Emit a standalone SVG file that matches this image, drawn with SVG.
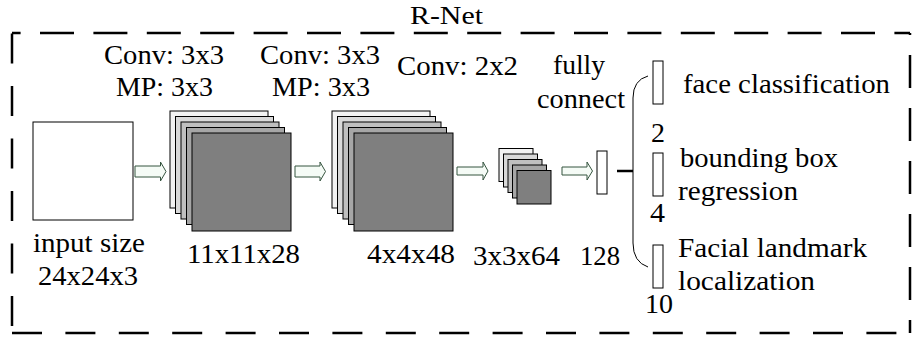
<svg xmlns="http://www.w3.org/2000/svg" width="921" height="338" viewBox="0 0 921 338" font-family="'Liberation Serif', 'Times New Roman', serif">
<style>
text{font-family:'Liberation Serif','Times New Roman',serif;font-size:28px;fill:#000}
.frame{stroke:#000;stroke-width:2.5;fill:none}
.box{fill:#fff;stroke:#000;stroke-width:1}
.l1{fill:#f2f2f2;stroke:#000;stroke-width:1}
.l2{fill:#d9d9d9;stroke:#000;stroke-width:1}
.l3{fill:#bfbfbf;stroke:#000;stroke-width:1}
.l4{fill:#a6a6a6;stroke:#000;stroke-width:1}
.l5{fill:#7f7f7f;stroke:#000;stroke-width:1}
.bar{fill:#fff;stroke:#000;stroke-width:1}
.arrow{fill:#f5fbf6;stroke:#35543f;stroke-width:1}
.link{fill:none;stroke:#000;stroke-width:1}
</style>
<g id="frame">
<line class="frame" x1="12" y1="33" x2="910" y2="33" stroke-dasharray="34 19.4" stroke-dashoffset="25.4"/>
<line class="frame" x1="12" y1="33" x2="12" y2="333" stroke-dasharray="30 22.5" stroke-dashoffset="-0.5"/>
<line class="frame" x1="910" y1="33" x2="910" y2="333" stroke-dasharray="33 20" stroke-dashoffset="31"/>
<line class="frame" x1="12" y1="333" x2="910" y2="333" stroke-dasharray="30 23.4"/>
<text x="410" y="24" style="font-size:26px" textLength="73" lengthAdjust="spacingAndGlyphs">R-Net</text>
</g>
<g id="input">
<rect class="box" x="33" y="122" width="100" height="98"/>
<text x="33" y="252" textLength="112" lengthAdjust="spacingAndGlyphs">input size</text>
<text x="38" y="285" textLength="100" lengthAdjust="spacingAndGlyphs">24x24x3</text>
</g>
<g id="conv1">
<text x="104" y="64" textLength="120" lengthAdjust="spacingAndGlyphs">Conv: 3x3</text>
<text x="116" y="96" textLength="97" lengthAdjust="spacingAndGlyphs">MP: 3x3</text>
<rect class="l1" x="170" y="111" width="98" height="97"/>
<rect class="l2" x="175.5" y="116.5" width="98" height="97"/>
<rect class="l3" x="181" y="122" width="98" height="97"/>
<rect class="l4" x="186.5" y="127.5" width="98" height="97"/>
<rect class="l5" x="192" y="133" width="99" height="98"/>
<text x="187" y="263" textLength="113" lengthAdjust="spacingAndGlyphs">11x11x28</text>
</g>
<g id="conv2">
<text x="260" y="64" textLength="120" lengthAdjust="spacingAndGlyphs">Conv: 3x3</text>
<text x="272" y="96" textLength="98" lengthAdjust="spacingAndGlyphs">MP: 3x3</text>
<rect class="l1" x="332" y="111" width="98" height="97"/>
<rect class="l2" x="337.5" y="116.5" width="98" height="97"/>
<rect class="l3" x="343" y="122" width="98" height="97"/>
<rect class="l4" x="348.5" y="127.5" width="98" height="97"/>
<rect class="l5" x="354" y="133" width="99" height="98"/>
<text x="367" y="263" textLength="88" lengthAdjust="spacingAndGlyphs">4x4x48</text>
</g>
<g id="conv3">
<text x="397" y="75" textLength="121" lengthAdjust="spacingAndGlyphs">Conv: 2x2</text>
<rect class="l1" x="499" y="148.5" width="34" height="33"/>
<rect class="l2" x="503.5" y="154" width="34" height="33"/>
<rect class="l3" x="508" y="159.5" width="34" height="33"/>
<rect class="l4" x="512.5" y="165" width="34" height="33"/>
<rect class="l5" x="517" y="170.5" width="34" height="33.5"/>
<text x="473" y="265" textLength="87" lengthAdjust="spacingAndGlyphs">3x3x64</text>
</g>
<g id="fc">
<text x="553" y="74" textLength="52" lengthAdjust="spacingAndGlyphs">fully</text>
<text x="537" y="108" textLength="88" lengthAdjust="spacingAndGlyphs">connect</text>
<rect class="bar" x="597" y="151" width="10" height="43"/>
<text x="580" y="265" textLength="40" lengthAdjust="spacingAndGlyphs">128</text>
</g>
<g id="face-classification">
<rect class="bar" x="653" y="61" width="10" height="43"/>
<text x="683" y="93" textLength="207" lengthAdjust="spacingAndGlyphs">face classification</text>
<text x="651" y="142" textLength="14" lengthAdjust="spacingAndGlyphs">2</text>
</g>
<g id="bbox-regression">
<rect class="bar" x="653" y="153" width="10" height="43"/>
<text x="680" y="167" textLength="158" lengthAdjust="spacingAndGlyphs">bounding box</text>
<text x="678" y="200" textLength="120" lengthAdjust="spacingAndGlyphs">regression</text>
<text x="650" y="222" textLength="15" lengthAdjust="spacingAndGlyphs">4</text>
</g>
<g id="landmark-localization">
<rect class="bar" x="653" y="245" width="10" height="43"/>
<text x="678" y="257" textLength="189" lengthAdjust="spacingAndGlyphs">Facial landmark</text>
<text x="678" y="290" textLength="137" lengthAdjust="spacingAndGlyphs">localization</text>
<text x="645" y="313" textLength="28" lengthAdjust="spacingAndGlyphs">10</text>
</g>
<g id="connectors">
<path class="arrow" d="M135,166 H160.5 V162 L166,171.5 L160.5,181 V177 H135 Z"/>
<path class="arrow" d="M295,166 H320 V162 L325.5,171.5 L320,181 V177 H295 Z"/>
<path class="arrow" d="M457,167 H483 V162 L488,171 L483,180 V175 H457 Z"/>
<path class="arrow" d="M562,167 H587 V162 L592.5,171 L587,180 V175 H562 Z"/>
<line x1="617" y1="171" x2="633" y2="171" stroke="#000" stroke-width="2.5"/>
<path class="link" d="M648,76 Q633,80 633,98 V243 Q633,262 648,267"/>
</g>
</svg>
